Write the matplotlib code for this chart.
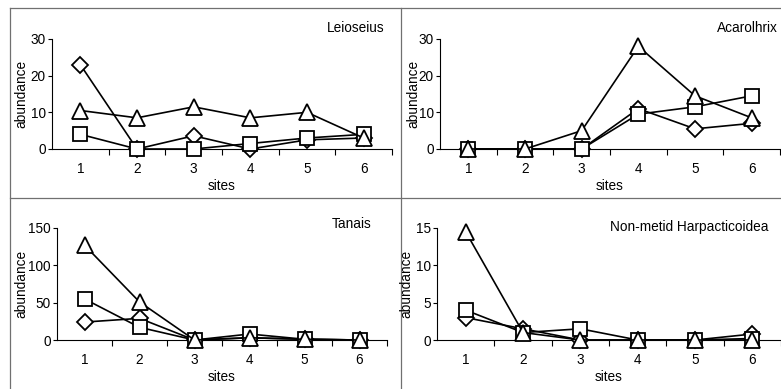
import matplotlib
matplotlib.use('Agg')
import matplotlib.pyplot as plt
from matplotlib.lines import Line2D

plt.rcParams['font.family'] = ['Liberation Sans', 'DejaVu Sans']

sites = [1, 2, 3, 4, 5, 6]

# Leioseius
leio_diamond = [23, 0, 3.6, 0, 2.5, 3]
leio_square = [4, 0, 0, 1.5, 3, 4]
leio_triangle = [10.5, 8.5, 11.5, 8.5, 10, 3]

# Acarolhrix
acar_diamond = [0, 0, 0, 11, 5.5, 7]
acar_square = [0, 0, 0, 9.5, 11.5, 14.5]
acar_triangle = [0, 0, 5, 28, 14.5, 8.5]

# Tanais
tana_diamond = [24, 29, 0, 3, 1, 0]
tana_square = [55, 17, 0, 8, 1, 0]
tana_triangle = [127, 51, 0, 3, 1, 0]

# Non-metid Harpacticoidea
harp_diamond = [3, 1.5, 0, 0, 0, 0.8]
harp_square = [4, 1, 1.5, 0, 0, 0.2]
harp_triangle = [14.5, 1, 0, 0, 0, 0]

W, H = 781, 389
fig = plt.figure(figsize=(W / 100, H / 100), dpi=100)
fs = 9.8

def px_axes(x0, x1, ytop, ybot):
    return fig.add_axes([x0 / W, 1 - ybot / H, (x1 - x0) / W, (ybot - ytop) / H])

panels = [
    # name, diamond, square, triangle, ymax, yticks, (x0, x1, ytop, ybot), title pos, ylabel x
    ('Leioseius', leio_diamond, leio_square, leio_triangle, 30, [0, 10, 20, 30],
     (52, 392, 39, 149), (385, 28), 21),
    ('Acarolhrix', acar_diamond, acar_square, acar_triangle, 30, [0, 10, 20, 30],
     (440, 780, 39, 149), (778, 28), 413),
    ('Tanais', tana_diamond, tana_square, tana_triangle, 150, [0, 50, 100, 150],
     (57, 387, 228, 340), (372, 224), 21),
    ('Non-metid Harpacticoidea', harp_diamond, harp_square, harp_triangle, 15, [0, 5, 10, 15],
     (437, 781, 228, 340), (768, 227), 406),
]

mk = dict(color='black', lw=1.2, markerfacecolor='white', markeredgecolor='black',
          markeredgewidth=1.3, clip_on=False)

for name, dia, sq, tri, ymax, yt, box, tpos, ylx in panels:
    x0, x1, ytop, ybot = box
    ax = px_axes(x0, x1, ytop, ybot)
    ax.plot(sites, dia, marker='D', markersize=8.5, zorder=3, **mk)
    ax.plot(sites, sq, marker='s', markersize=10.5, zorder=4, **mk)
    ax.plot(sites, tri, marker='^', markersize=11.5, zorder=5, **mk)
    ax.set_xlim(0.5, 6.5)
    ax.set_ylim(0, ymax)
    ax.set_yticks(yt)
    ax.set_xticks(sites)
    ax.set_xticks([1.5 + i for i in range(6)], minor=True)
    ax.tick_params(axis='x', which='major', length=0, pad=9.5, labelsize=fs)
    ax.tick_params(axis='x', which='minor', length=4, width=0.8, direction='out')
    ax.tick_params(axis='y', length=3, width=0.8, pad=1.5, labelsize=fs)
    for s in ['top', 'right']:
        ax.spines[s].set_visible(False)
    ax.spines['left'].set_linewidth(0.8)
    ax.spines['bottom'].set_linewidth(0.8)
    ax.patch.set_alpha(0)
    ymid = (ytop + ybot) / 2
    fig.text(ylx / W, 1 - ymid / H, 'abundance', rotation=90, ha='center', va='center', fontsize=fs)
    fig.text((x0 + x1) / 2 / W, 1 - (ybot + 37) / H, 'sites', ha='center', va='center', fontsize=fs)
    fig.text(tpos[0] / W, 1 - tpos[1] / H, name, ha='right', va='center', fontsize=fs)

# panel frames
gray = '#707070'
fig.add_artist(Line2D([10 / W, 1], [1 - 8 / H, 1 - 8 / H], color=gray, lw=0.9))
fig.add_artist(Line2D([10 / W, 1], [1 - 198 / H, 1 - 198 / H], color=gray, lw=0.9))
fig.add_artist(Line2D([10 / W, 10 / W], [0, 1 - 8 / H], color=gray, lw=0.9))
fig.add_artist(Line2D([401 / W, 401 / W], [0, 1 - 8 / H], color=gray, lw=0.9))

fig.savefig('out.png', dpi=100)
